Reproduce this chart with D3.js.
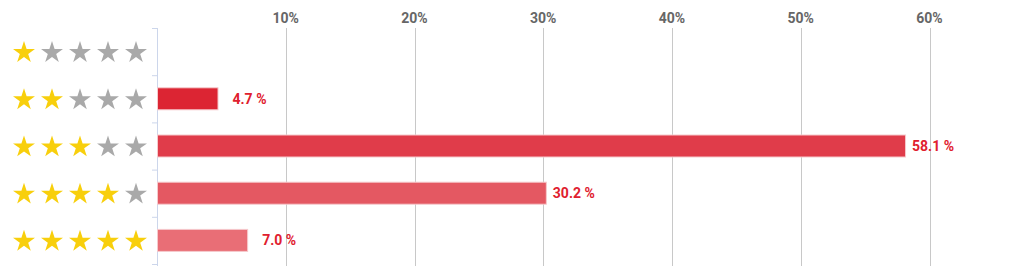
<!DOCTYPE html>
<html>
<head>
<meta charset="utf-8">
<script src="https://cdn.jsdelivr.net/npm/d3@7"></script>
<style>
  body { margin: 0; background: #fff; }
  svg { display: block; font-family: Roboto, "Liberation Sans", Arial, sans-serif; }
</style>
</head>
<body>
<svg id="chart"></svg>
<script>
// Rating categories (number of stars) and share of votes
const ratings = [1, 2, 3, 4, 5];
const shares = [0, 4.7, 58.1, 30.2, 7.0];
const barColors = ["#dc2533", "#dc2533", "#e03c4a", "#e45862", "#e96e76"];
const xTicks = [10, 20, 30, 40, 50, 60];

const width = 1024, height = 278;
const svg = d3.select("#chart")
    .attr("width", width)
    .attr("height", height);

const plotLeft = 157, plotTop = 28, plotBottom = 264;

// x scale: percent -> pixels
const x = d3.scaleLinear()
    .domain([0, 60])
    .range([plotLeft, plotLeft + 772.5]);

// y scale: one band per rating
const y = d3.scaleBand()
    .domain(ratings)
    .range([plotTop, plotBottom])
    .paddingInner(0)
    .paddingOuter(0);

// vertical grid lines
svg.append("g")
    .selectAll("line")
    .data(xTicks)
    .join("line")
    .attr("x1", d => Math.round(x(d)) + 0.5)
    .attr("x2", d => Math.round(x(d)) + 0.5)
    .attr("y1", plotTop)
    .attr("y2", plotBottom + 2)
    .attr("stroke", "#c8c8c8")
    .attr("stroke-width", 1);

// top axis labels
svg.append("g")
    .selectAll("text")
    .data(xTicks)
    .join("text")
    .attr("x", d => x(d))
    .attr("y", 23)
    .attr("text-anchor", "middle")
    .attr("font-size", 14)
    .attr("font-weight", "bold")
    .attr("fill", "#666")
    .text(d => d + "%");

// left axis line with tick marks at band edges
const yAxis = svg.append("g");
yAxis.append("line")
    .attr("x1", plotLeft + 0.5).attr("x2", plotLeft + 0.5)
    .attr("y1", plotTop).attr("y2", plotBottom + 2)
    .attr("stroke", "#ccd6eb");
yAxis.selectAll("line.tick")
    .data(ratings.concat(["end"]))
    .join("line")
    .attr("class", "tick")
    .attr("x1", plotLeft - 5).attr("x2", plotLeft)
    .attr("y1", d => (d === "end" ? plotBottom : y(d)) + 0.5)
    .attr("y2", d => (d === "end" ? plotBottom : y(d)) + 0.5)
    .attr("stroke", "#ccd6eb");

// bars
const barH = 22;
svg.append("g")
    .selectAll("rect")
    .data(ratings.filter((r, i) => shares[i] > 0))
    .join("rect")
    .attr("x", plotLeft + 0.5)
    .attr("y", d => y(d) + y.bandwidth() / 2 - barH / 2)
    .attr("width", d => x(shares[d - 1]) - plotLeft)
    .attr("height", barH)
    .attr("fill", d => barColors[d - 1])
    .attr("stroke", "#f6c9cc")
    .attr("stroke-width", 1);

// value labels
svg.append("g")
    .selectAll("text")
    .data(ratings.filter((r, i) => shares[i] > 0))
    .join("text")
    .attr("x", d => x(shares[d - 1]) + 49)
    .attr("y", d => y(d) + y.bandwidth() / 2 + 5)
    .attr("text-anchor", "end")
    .attr("font-size", 14)
    .attr("font-weight", "bold")
    .attr("fill", "#e0202e")
    .text(d => shares[d - 1].toFixed(1) + " %");

// star icons for each rating row
const star = d3.symbol().type(d3.symbolStar).size(150);
const starX = d3.scaleLinear().domain([0, 4]).range([24, 136]);
ratings.forEach(r => {
    svg.append("g")
        .selectAll("path")
        .data(d3.range(5))
        .join("path")
        .attr("d", star)
        .attr("transform", i => `translate(${starX(i)},${y(r) + y.bandwidth() / 2 + 1})`)
        .attr("fill", i => i < r ? "#f8cf0c" : "#a9a9a9");
});
</script>
</body>
</html>
